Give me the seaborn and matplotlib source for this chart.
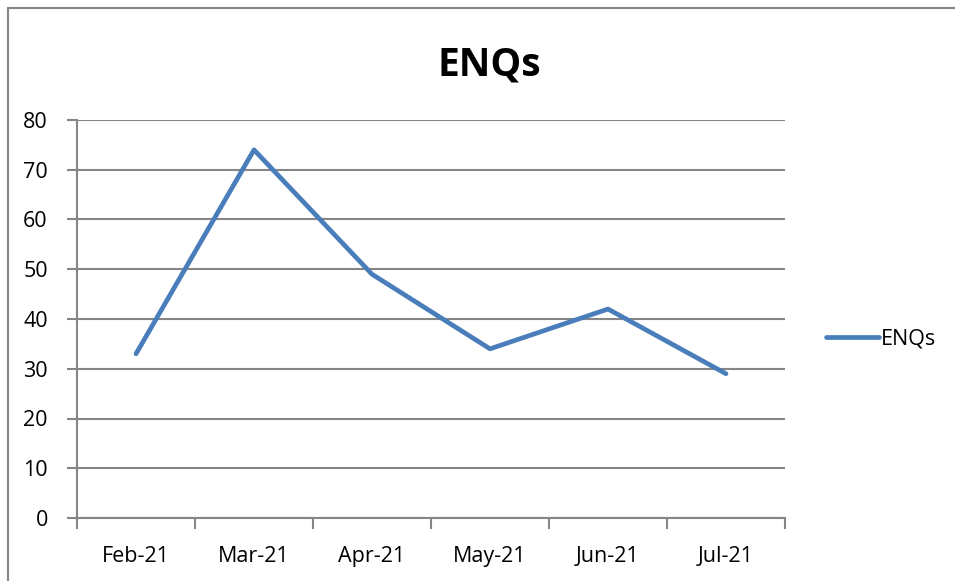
import matplotlib
matplotlib.use('Agg')
import matplotlib.pyplot as plt
import matplotlib.patches as mpatches
import seaborn as sns
import pandas as pd

# Data
months = ['Feb-21', 'Mar-21', 'Apr-21', 'May-21', 'Jun-21', 'Jul-21']
enqs = [33, 74, 49, 34, 42, 29]
y_ticks = [0, 10, 20, 30, 40, 50, 60, 70, 80]

df = pd.DataFrame({'month': months, 'ENQs': enqs})

sns.set_style('white')
plt.rcParams['font.family'] = ['Open Sans', 'DejaVu Sans']
plt.rcParams['text.color'] = 'black'
plt.rcParams['xtick.color'] = 'black'
plt.rcParams['ytick.color'] = 'black'

fig = plt.figure(figsize=(9.55, 5.81), dpi=100)
ax = fig.add_axes([77 / 955, 63 / 581, 708 / 955, 398 / 581])

grey = '#868686'
line_col = '#4a7ebb'

sns.lineplot(data=df, x='month', y='ENQs', ax=ax, color=line_col, linewidth=3.4,
             sort=False, label='ENQs', solid_capstyle='round')

ax.set_xlim(-0.5, len(months) - 0.5)
ax.set_ylim(0, 80)
ax.set_yticks(y_ticks)
ax.set_xticks(range(len(months)))
ax.set_xticklabels(months)
ax.set_xticks([i - 0.5 for i in range(len(months) + 1)], minor=True)
ax.tick_params(axis='x', which='major', bottom=True, length=0, pad=20, labelsize=15.5)
ax.tick_params(axis='x', which='minor', bottom=True, length=8, width=1.5, color=grey,
               direction='out')
ax.tick_params(axis='y', left=True, length=7, width=1.5, color=grey, labelcolor='black',
               direction='out', labelsize=15.5, pad=14)
ax.set_xlabel('')
ax.set_ylabel('')

ax.grid(axis='y', color=grey, linewidth=1.5)
ax.set_axisbelow(True)
for s in ['top', 'right']:
    ax.spines[s].set_visible(False)
for s in ['left', 'bottom']:
    ax.spines[s].set_color(grey)
    ax.spines[s].set_linewidth(1.5)

fig.text(489 / 955, 1 - 76 / 581, 'ENQs', fontsize=28, fontweight='bold',
         ha='center', va='baseline', color='black')

leg = ax.legend(loc='center left', bbox_to_anchor=(1.03, 0.45), frameon=False,
                fontsize=15.5, handlelength=2.5, handletextpad=0.05)

# outer chart frame
fig.patches.append(mpatches.Rectangle((8 / 955, -0.1), 1.1, (581 - 8) / 581 + 0.1,
                                      transform=fig.transFigure, fill=False,
                                      edgecolor=grey, linewidth=1.5))

fig.savefig('out.png', dpi=100)
